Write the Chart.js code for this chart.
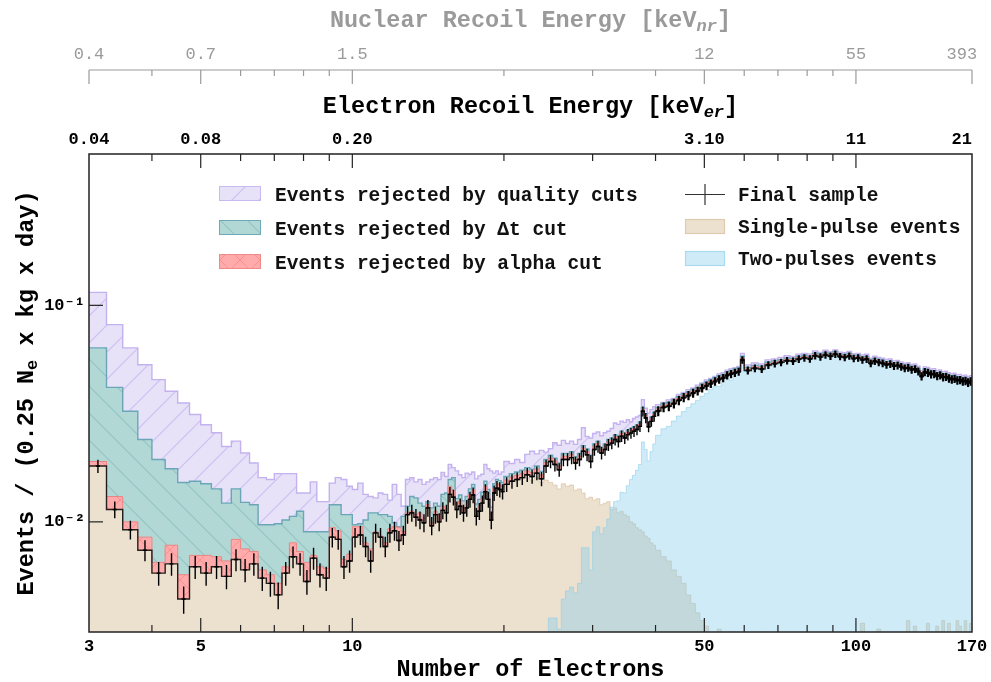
<!DOCTYPE html>
<html><head><meta charset="utf-8">
<script src="https://cdn.jsdelivr.net/npm/chart.js@4.4.1/dist/chart.umd.min.js"></script>
<style>html,body{margin:0;padding:0;background:#fff;}canvas{display:block;}</style>
</head><body>
<canvas id="c" width="991" height="682"></canvas>
<script>
// ---------------- binning of the x axis (Number of Electrons) ----------------
const binGroups = [
  {from: 3,  to: 20,  width: 0.25},
  {from: 20, to: 40,  width: 0.5},
  {from: 40, to: 60,  width: 1},
  {from: 60, to: 170, width: 2}
];
// ---------------- axis ticks ----------------
const axisTicks = [3, 5, 10, 50, 100, 170];
const electronTickLabels = ['3', '5', '10', '50', '100', '170'];
const erTickLabels = ['0.04', '0.08', '0.20', '3.10', '11', '21'];
const nrTickLabels = ['0.4', '0.7', '1.5', '12', '55', '393'];
const minorTicks = [4, 6, 7, 8, 9, 20, 30, 40, 60, 70, 80, 90];
const yTicks = [0.01, 0.1];
const yTickLabels = ['10\u207B\u00B2', '10\u207B\u00B9'];
const legendLeft = ['Events rejected by quality cuts', 'Events rejected by \u0394t cut', 'Events rejected by alpha cut'];
const legendRight = ['Final sample', 'Single-pulse events', 'Two-pulses events'];

// ---------------- series: Events / (0.25 Ne x kg x day), one value per bin ----------------
const finalSample = [
  0.0181,0.0114,0.0092,0.0074,0.0058,0.0064,0.0044,0.0062,0.0058,0.0062,
  0.0056,0.0067,0.0060,0.0064,0.0055,0.0052,0.0046,0.0058,0.0069,0.0064,
  0.0053,0.0068,0.0057,0.0055,0.0085,0.0083,0.0062,0.0066,0.0085,0.0087,
  0.0077,0.0066,0.0089,0.0085,0.0077,0.0089,0.0091,0.0082,0.0087,0.0108,
  0.0110,0.0105,0.0102,0.0099,0.0116,0.0096,0.0108,0.0100,0.0113,0.0110,
  0.0134,0.0130,0.0114,0.0118,0.0110,0.0116,0.0127,0.0133,0.0106,0.0112,
  0.0122,0.0138,0.0127,0.0102,0.0136,0.0143,0.0141,0.0138,
  0.0149,0.0154,0.0157,0.0160,0.0165,0.0162,0.0168,0.0158,0.0181,0.0190,
  0.0184,0.0174,0.0194,0.0194,0.0198,0.0187,0.0194,0.0212,0.0204,0.0190,
  0.0216,0.0223,0.0208,0.0216,0.0227,0.0231,0.0240,0.0235,0.0249,0.0244,
  0.0253,0.0257,0.0262,0.0267,0.0276,0.0324,0.0302,0.0275,0.0291,0.0307,
  0.0325,0.0338,0.0342,0.0352,0.0364,0.0375,0.0383,0.0393,0.0402,0.0415,
  0.0425,0.0435,0.0445,0.0455,0.0462,0.0475,0.0482,0.0488,0.0494,0.0560,
  0.0500,0.0512,0.0508,0.0530,0.0538,0.0545,0.0555,0.0552,0.0565,0.0572,
  0.0566,0.0585,0.0578,0.0590,0.0582,0.0595,0.0580,0.0575,0.0583,0.0568,
  0.0572,0.0560,0.0565,0.0540,0.0552,0.0545,0.0540,0.0532,0.0536,0.0525,
  0.0528,0.0520,0.0512,0.0515,0.0505,0.0508,0.0495,0.0470,0.0492,0.0488,
  0.0480,0.0482,0.0472,0.0475,0.0466,0.0468,0.0460,0.0455,0.0458,0.0450,
  0.0452,0.0445,0.0448,0.0440,0.0445
];
const alphaCut = [
  0.0190,0.0131,0.0100,0.0085,0.0065,0.0078,0.0057,0.0070,0.0070,0.0069,
  0.0066,0.0083,0.0075,0.0073,0.0060,0.0057,0.0052,0.0062,0.0080,0.0073,
  0.0065,0.0070,0.0062,0.0061,0.0094,0.0091,0.0067,0.0071,0.0095,0.0095,
  0.0080,0.0075,0.0090,0.0086,0.0080,0.0093,0.0095,0.0094,0.0090,0.0110,
  0.0112,0.0108,0.0110,0.0104,0.0120,0.0099,0.0112,0.0108,0.0118,0.0115,
  0.0146,0.0140,0.0121,0.0125,0.0117,0.0123,0.0134,0.0141,0.0113,0.0119,
  0.0129,0.0146,0.0134,0.0109,0.0143,0.0150,0.0148,0.0145,
  0.0156,0.0161,0.0164,0.0167,0.0172,0.0169,0.0175,0.0165,0.0188,0.0197,
  0.0191,0.0181,0.0201,0.0201,0.0205,0.0194,0.0201,0.0219,0.0211,0.0197,
  0.0223,0.0230,0.0215,0.0223,0.0234,0.0238,0.0247,0.0242,0.0256,0.0251,
  0.0260,0.0264,0.0269,0.0274,0.0283,0.0332,0.0310,0.0283,0.0299,0.0315,
  0.0332,0.0345,0.0349,0.0359,0.0371,0.0383,0.0391,0.0401,0.0410,0.0423,
  0.0434,0.0444,0.0454,0.0464,0.0471,0.0485,0.0492,0.0498,0.0504,0.0571,
  0.0508,0.0520,0.0516,0.0538,0.0546,0.0553,0.0563,0.0560,0.0573,0.0580,
  0.0574,0.0593,0.0586,0.0598,0.0590,0.0603,0.0588,0.0583,0.0591,0.0576,
  0.0580,0.0568,0.0573,0.0548,0.0560,0.0553,0.0548,0.0540,0.0544,0.0533,
  0.0536,0.0528,0.0520,0.0523,0.0513,0.0516,0.0503,0.0478,0.0500,0.0496,
  0.0488,0.0490,0.0480,0.0483,0.0474,0.0476,0.0468,0.0463,0.0466,0.0458,
  0.0460,0.0453,0.0456,0.0448,0.0453
];
const dtCut = [
  0.0636,0.0418,0.0324,0.0240,0.0194,0.0176,0.0152,0.0154,0.0150,0.0142,
  0.0122,0.0142,0.0123,0.0120,0.0097,0.0097,0.0098,0.0102,0.0106,0.0112,
  0.0090,0.0090,0.0090,0.0090,0.0120,0.0120,0.0108,0.0108,0.0097,0.0098,
  0.0102,0.0110,0.0110,0.0108,0.0108,0.0106,0.0099,0.0095,0.0106,0.0118,
  0.0131,0.0129,0.0122,0.0118,0.0124,0.0116,0.0122,0.0118,0.0134,0.0136,
  0.0157,0.0160,0.0128,0.0133,0.0125,0.0131,0.0142,0.0149,0.0121,0.0127,
  0.0137,0.0154,0.0141,0.0117,0.0150,0.0157,0.0155,0.0152,
  0.0162,0.0167,0.0170,0.0173,0.0178,0.0175,0.0181,0.0171,0.0194,0.0203,
  0.0197,0.0187,0.0207,0.0207,0.0211,0.0200,0.0207,0.0225,0.0217,0.0203,
  0.0229,0.0236,0.0221,0.0229,0.0240,0.0244,0.0253,0.0248,0.0262,0.0257,
  0.0266,0.0270,0.0275,0.0280,0.0289,0.0338,0.0316,0.0289,0.0305,0.0321,
  0.0338,0.0352,0.0356,0.0366,0.0379,0.0390,0.0398,0.0409,0.0418,0.0432,
  0.0442,0.0452,0.0463,0.0473,0.0480,0.0494,0.0501,0.0508,0.0514,0.0582,
  0.0516,0.0528,0.0524,0.0546,0.0554,0.0561,0.0571,0.0568,0.0581,0.0588,
  0.0582,0.0601,0.0594,0.0606,0.0598,0.0611,0.0596,0.0591,0.0599,0.0584,
  0.0588,0.0576,0.0581,0.0556,0.0568,0.0561,0.0556,0.0548,0.0552,0.0541,
  0.0544,0.0536,0.0528,0.0531,0.0521,0.0524,0.0511,0.0486,0.0508,0.0504,
  0.0496,0.0498,0.0488,0.0491,0.0482,0.0484,0.0476,0.0471,0.0474,0.0466,
  0.0468,0.0461,0.0464,0.0456,0.0461
];
const qualityCut = [
  0.1148,0.0815,0.0636,0.0532,0.0454,0.0401,0.0354,0.0313,0.0281,0.0258,
  0.0223,0.0236,0.0208,0.0187,0.0160,0.0157,0.0167,0.0167,0.0167,0.0136,
  0.0136,0.0153,0.0124,0.0124,0.0151,0.0160,0.0157,0.0146,0.0141,0.0151,
  0.0134,0.0131,0.0129,0.0136,0.0134,0.0126,0.0149,0.0134,0.0118,0.0157,
  0.0160,0.0153,0.0157,0.0149,0.0153,0.0157,0.0160,0.0157,0.0169,0.0162,
  0.0184,0.0178,0.0172,0.0165,0.0160,0.0168,0.0166,0.0170,0.0158,0.0163,
  0.0166,0.0184,0.0176,0.0172,0.0168,0.0172,0.0166,0.0170,
  0.0190,0.0186,0.0194,0.0188,0.0205,0.0212,0.0206,0.0214,0.0210,0.0218,
  0.0232,0.0226,0.0238,0.0230,0.0236,0.0228,0.0240,0.0272,0.0248,0.0244,
  0.0256,0.0260,0.0250,0.0258,0.0262,0.0270,0.0286,0.0282,0.0292,0.0288,
  0.0296,0.0290,0.0300,0.0305,0.0310,0.0367,0.0335,0.0318,0.0330,0.0340,
  0.0348,0.0356,0.0366,0.0372,0.0388,0.0396,0.0408,0.0415,0.0428,0.0438,
  0.0452,0.0460,0.0470,0.0482,0.0488,0.0502,0.0510,0.0515,0.0522,0.0600,
  0.0530,0.0542,0.0536,0.0560,0.0566,0.0575,0.0585,0.0580,0.0595,0.0600,
  0.0596,0.0615,0.0606,0.0620,0.0610,0.0622,0.0608,0.0605,0.0612,0.0598,
  0.0600,0.0590,0.0594,0.0570,0.0582,0.0574,0.0570,0.0562,0.0565,0.0554,
  0.0557,0.0548,0.0540,0.0544,0.0533,0.0536,0.0523,0.0500,0.0520,0.0516,
  0.0508,0.0510,0.0500,0.0503,0.0494,0.0496,0.0488,0.0483,0.0486,0.0478,
  0.0480,0.0473,0.0476,0.0468,0.0473
];
const singlePulse = [
  0.0181,0.0114,0.0092,0.0074,0.0058,0.0064,0.0044,0.0062,0.0058,0.0062,
  0.0056,0.0067,0.0060,0.0064,0.0055,0.0052,0.0046,0.0058,0.0069,0.0064,
  0.0053,0.0068,0.0057,0.0055,0.0085,0.0083,0.0062,0.0066,0.0085,0.0087,
  0.0077,0.0066,0.0089,0.0085,0.0077,0.0089,0.0091,0.0082,0.0087,0.0108,
  0.0110,0.0105,0.0102,0.0099,0.0116,0.0096,0.0108,0.0100,0.0113,0.0110,
  0.0134,0.0130,0.0114,0.0118,0.0110,0.0116,0.0127,0.0133,0.0106,0.0112,
  0.0122,0.0138,0.0127,0.0102,0.0136,0.0143,0.0141,0.0138,
  0.0149,0.0154,0.0157,0.0158,0.0160,0.0156,0.0160,0.0152,0.0156,0.0152,
  0.0148,0.0142,0.0150,0.0146,0.0148,0.0140,0.0142,0.0136,0.0128,0.0130,
  0.0126,0.0128,0.0120,0.0122,0.0124,0.0114,0.0116,0.0110,0.0112,0.0108,
  0.0106,0.0100,0.0098,0.0094,0.0092,0.0090,0.0086,0.0084,0.0080,0.0078,
  0.0074,0.0069,0.0066,0.0060,0.0056,0.0052,0.0046,0.0042,0.0038,0.0035,
  0.0033,0.0026,0.0022,0.0032,0.0020,0.0020,0.0031,0.0020,0.0020,0.0020,
  0.0020,0.0020,0.0031,0.0020,0.0020,0.0020,0.0020,0.0020,0.0020,0.0020,
  0.0020,0.0020,0.0020,0.0020,0.0020,0.0020,0.0020,0.0020,0.0020,0.0020,
  0.0020,0.0034,0.0020,0.0020,0.0020,0.0032,0.0020,0.0020,0.0020,0.0020,
  0.0020,0.0020,0.0020,0.0035,0.0020,0.0033,0.0020,0.0020,0.0020,0.0034,
  0.0020,0.0020,0.0033,0.0020,0.0035,0.0020,0.0034,0.0020,0.0020,0.0035,
  0.0033,0.0020,0.0035,0.0020,0.0034
];
const twoPulses = [
  0.001,0.001,0.001,0.001,0.001,0.001,0.001,0.001,0.001,0.001,
  0.001,0.001,0.001,0.001,0.001,0.001,0.001,0.001,0.001,0.001,
  0.001,0.001,0.001,0.001,0.001,0.001,0.001,0.001,0.001,0.001,
  0.001,0.001,0.001,0.001,0.001,0.001,0.001,0.001,0.001,0.001,
  0.001,0.001,0.001,0.001,0.001,0.001,0.001,0.001,0.001,0.001,
  0.001,0.001,0.001,0.001,0.001,0.001,0.001,0.001,0.001,0.001,
  0.001,0.001,0.001,0.001,0.001,0.001,0.001,0.001,
  0.001,0.001,0.001,0.001,0.001,0.001,0.001,0.001,0.0028,0.0036,
  0.0036,0.0032,0.0044,0.0048,0.0050,0.0047,0.0052,0.0076,0.0076,0.0060,
  0.0090,0.0095,0.0088,0.0094,0.0103,0.0117,0.0124,0.0125,0.0137,0.0136,
  0.0147,0.0157,0.0164,0.0173,0.0184,0.0234,0.0216,0.0191,0.0211,0.0229,
  0.0251,0.0269,0.0276,0.0292,0.0308,0.0323,0.0337,0.0351,0.0364,0.0380,
  0.0392,0.0409,0.0423,0.0423,0.0458,0.0470,0.0451,0.0484,0.0490,0.0555,
  0.0496,0.0508,0.0504,0.0526,0.0534,0.0541,0.0551,0.0548,0.0561,0.0568,
  0.0562,0.0581,0.0574,0.0586,0.0578,0.0591,0.0576,0.0571,0.0579,0.0564,
  0.0568,0.0556,0.0561,0.0536,0.0548,0.0541,0.0536,0.0528,0.0532,0.0521,
  0.0524,0.0516,0.0508,0.0511,0.0501,0.0504,0.0491,0.0466,0.0488,0.0484,
  0.0476,0.0478,0.0468,0.0471,0.0462,0.0464,0.0456,0.0451,0.0454,0.0446,
  0.0448,0.0441,0.0444,0.0436,0.0441
];
// exposure per 0.25 Ne bin, used for the Poisson error bars of the final sample
const exposurePerBin = 11000;

// ---------------- build bin edges ----------------
const edges = [];
binGroups.forEach(g => {
  for (let i = 0; ; i++) {
    const e = g.from + i * g.width;
    if (e >= g.to - 1e-9) break;
    edges.push(+e.toFixed(4));
  }
});
edges.push(binGroups[binGroups.length - 1].to);
function steps(vals) {
  const pts = vals.map((v, i) => ({x: edges[i], y: v}));
  pts.push({x: edges[vals.length], y: vals[vals.length - 1]});
  return pts;
}

// ---------------- patterns ----------------
function makePattern(bg, lineColor, size, kinds, lw) {
  const c = document.createElement('canvas');
  c.width = size; c.height = size;
  const g = c.getContext('2d');
  g.fillStyle = bg; g.fillRect(0, 0, size, size);
  g.strokeStyle = lineColor; g.lineWidth = lw;
  g.beginPath();
  if (kinds.includes('/')) {
    g.moveTo(-2, size + 2); g.lineTo(size + 2, -2);
    g.moveTo(-2, 2); g.lineTo(2, -2);
    g.moveTo(size - 2, size + 2); g.lineTo(size + 2, size - 2);
  }
  if (kinds.includes('\\')) {
    g.moveTo(-2, -2); g.lineTo(size + 2, size + 2);
    g.moveTo(size - 2, -2); g.lineTo(size + 2, 2);
    g.moveTo(-2, size - 2); g.lineTo(2, size + 2);
  }
  g.stroke();
  return g.createPattern(c, 'repeat');
}
const lavPat = makePattern('#e8e2f8', '#cdbff2', 27, ['/'], 1.2);
const tealPat = makePattern('#b2d8d5', '#94c4c3', 27, ['\\'], 1.2);
const redPat = makePattern('#ffabab', '#ff8e8e', 20, ['/', '\\'], 1);

const FONT = '"Liberation Mono", "DejaVu Sans Mono", monospace';
Chart.defaults.font.family = FONT;

const common = {stepped: 'before', pointRadius: 0, pointHoverRadius: 0, tension: 0};

// ---------------- error bars for the final sample ----------------
const errorBars = {
  id: 'errorBars',
  afterDatasetsDraw(chart) {
    const {ctx, chartArea: a, scales: {x, y}} = chart;
    ctx.save();
    ctx.beginPath(); ctx.rect(a.left, a.top, a.right - a.left, a.bottom - a.top); ctx.clip();
    ctx.strokeStyle = '#000';
    finalSample.forEach((v, i) => {
      const c = (edges[i] + edges[i + 1]) / 2;
      const err = Math.sqrt(v / exposurePerBin);
      const px = x.getPixelForValue(c);
      ctx.lineWidth = (edges[i + 1] - edges[i]) >= 1 ? 2.2 : 1.4;
      ctx.beginPath();
      ctx.moveTo(px, y.getPixelForValue(v + err));
      ctx.lineTo(px, y.getPixelForValue(Math.max(v - err, 1e-5)));
      ctx.moveTo(px - 2, y.getPixelForValue(v));
      ctx.lineTo(px + 2, y.getPixelForValue(v));
      ctx.stroke();
    });
    ctx.restore();
  }
};

function drawParts(ctx, parts, x, y, align) {
  let total = 0;
  parts.forEach(p => { ctx.font = p.font; p.w = ctx.measureText(p.text).width; total += p.w; });
  let cx = align === 'center' ? x - total / 2 : x;
  ctx.textAlign = 'left'; ctx.textBaseline = 'alphabetic';
  parts.forEach(p => {
    ctx.font = p.font; ctx.fillStyle = p.color;
    ctx.fillText(p.text, cx, y + (p.dy || 0));
    cx += p.w;
  });
}

// ---------------- frame, ticks, extra axis, titles, legend ----------------
const decorations = {
  id: 'decorations',
  afterDraw(chart) {
    const {ctx, chartArea: a, scales: {x, y, xnr}} = chart;
    ctx.save();
    const line = (x1, y1, x2, y2) => { ctx.beginPath(); ctx.moveTo(x1, y1); ctx.lineTo(x2, y2); ctx.stroke(); };
    // frame
    ctx.strokeStyle = '#222'; ctx.lineWidth = 1.5;
    ctx.strokeRect(a.left, a.top, a.right - a.left, a.bottom - a.top);
    // x ticks on bottom and top of the frame (inward)
    ctx.lineWidth = 1.2;
    const xt = (v, len) => { const px = x.getPixelForValue(v); line(px, a.bottom, px, a.bottom - len); line(px, a.top, px, a.top + len); };
    axisTicks.slice(1, -1).forEach(v => xt(v, 14));
    minorTicks.forEach(v => xt(v, 7));
    // y ticks
    yTicks.forEach(v => { const py = y.getPixelForValue(v); line(a.left, py, a.left + 14, py); });
    // nuclear recoil axis line
    const ny = xnr.bottom - 10;
    ctx.strokeStyle = '#9a9a9a'; ctx.lineWidth = 1.2;
    line(a.left, ny, a.right, ny);
    axisTicks.forEach(v => { const px = x.getPixelForValue(v); line(px, ny, px, ny + 14); });
    minorTicks.forEach(v => { const px = x.getPixelForValue(v); line(px, ny, px, ny + 6); });

    // titles
    const cxm = (a.left + a.right) / 2;
    const big = 'bold 23.5px ' + FONT, sub = 'italic bold 17px ' + FONT;
    drawParts(ctx, [
      {text: 'Nuclear Recoil Energy [keV', font: big, color: '#9a9a9a'},
      {text: 'nr', font: sub, color: '#9a9a9a', dy: 4},
      {text: ']', font: big, color: '#9a9a9a'}], cxm, 27, 'center');
    drawParts(ctx, [
      {text: 'Electron Recoil Energy [keV', font: big, color: '#000'},
      {text: 'er', font: sub, color: '#000', dy: 4},
      {text: ']', font: big, color: '#000'}], cxm, 113, 'center');
    drawParts(ctx, [{text: 'Number of Electrons', font: big, color: '#000'}], cxm, 676, 'center');
    ctx.save();
    ctx.translate(33, (a.top + a.bottom) / 2);
    ctx.rotate(-Math.PI / 2);
    drawParts(ctx, [
      {text: 'Events / (0.25 N', font: big, color: '#000'},
      {text: 'e', font: 'bold 17px ' + FONT, color: '#000', dy: 4},
      {text: ' x kg x day)', font: big, color: '#000'}], 0, 0, 'center');
    ctx.restore();

    // legend
    const lf = 'bold 19.5px ' + FONT;
    const boxes = [
      {fill: lavPat, edge: '#c9b9f1', y: 186},
      {fill: tealPat, edge: '#6fa9b8', y: 220},
      {fill: redPat, edge: '#f08a8a', y: 254}];
    const base = [201, 235, 269];
    boxes.forEach((b, i) => {
      ctx.fillStyle = b.fill; ctx.fillRect(219, b.y, 42, 15);
      ctx.strokeStyle = b.edge; ctx.lineWidth = 1; ctx.strokeRect(219.5, b.y + 0.5, 41, 14);
    });
    legendLeft.forEach((t, i) => drawParts(ctx, [{text: t, font: lf, color: '#111'}], 275, base[i], 'left'));
    // right column
    ctx.strokeStyle = '#333'; ctx.lineWidth = 1.2;
    line(685, 194.5, 725, 194.5); line(705, 184, 705, 205);
    ctx.fillStyle = 'rgba(210,180,140,0.42)'; ctx.fillRect(685, 219, 40, 15);
    ctx.strokeStyle = 'rgba(210,180,140,0.5)'; ctx.strokeRect(685.5, 219.5, 39, 14);
    ctx.fillStyle = 'rgba(135,206,235,0.4)'; ctx.fillRect(685, 251, 40, 15);
    ctx.strokeStyle = 'rgba(135,206,235,0.55)'; ctx.strokeRect(685.5, 251.5, 39, 14);
    const rb = [201, 232.5, 264.5];
    legendRight.forEach((t, i) => drawParts(ctx, [{text: t, font: lf, color: '#111'}], 738, rb[i], 'left'));
    ctx.restore();
  }
};

function noSidePadding(s) { s.paddingLeft = 0; s.paddingRight = 0; }

function topAxis(labels, height, pad, color, weight, w) {
  return {
    type: 'logarithmic', position: 'top', weight: w, min: 3, max: 170,
    grid: {display: false, drawTicks: false}, border: {display: false},
    afterBuildTicks: s => { s.ticks = axisTicks.map(v => ({value: v})); },
    afterFit: s => { s.height = height; noSidePadding(s); },
    ticks: {autoSkip: false, maxRotation: 0, minRotation: 0, padding: pad, color: color,
            font: {size: 17, weight: weight},
            // the last label sits slightly inside the right end, as in the original figure
            callback: (v, i) => i === labels.length - 1 ? labels[i] + '  ' : labels[i]}
  };
}

new Chart(document.getElementById('c'), {
  type: 'line',
  data: {
    datasets: [
      Object.assign({label: 'Final sample', data: steps(finalSample), borderColor: 'rgba(15,15,15,0.9)', borderWidth: 1.4, fill: false}, common),
      Object.assign({label: 'Events rejected by alpha cut', data: steps(alphaCut), borderColor: '#e98383', borderWidth: 1, backgroundColor: redPat, fill: '-1'}, common),
      Object.assign({label: 'Events rejected by \u0394t cut', data: steps(dtCut), borderColor: '#6aa6b8', borderWidth: 1.4, backgroundColor: tealPat, fill: '-1'}, common),
      Object.assign({label: 'Events rejected by quality cuts', data: steps(qualityCut), borderColor: '#c4b2f0', borderWidth: 1.4, backgroundColor: lavPat, fill: '-1'}, common),
      Object.assign({label: 'Two-pulses events', data: steps(twoPulses), borderColor: 'rgba(135,206,235,0.55)', borderWidth: 1, backgroundColor: 'rgba(135,206,235,0.4)', fill: 'start'}, common),
      Object.assign({label: 'Single-pulse events', data: steps(singlePulse), borderColor: 'rgba(210,180,140,0.5)', borderWidth: 1, backgroundColor: 'rgba(210,180,140,0.42)', fill: 'start'}, common)
    ]
  },
  options: {
    responsive: false, animation: false, events: [],
    layout: {padding: {left: 0, right: 19, top: 0, bottom: 0}},
    plugins: {legend: {display: false}, tooltip: {enabled: false}, filler: {propagate: false}},
    scales: {
      x: {
        type: 'logarithmic', position: 'bottom', min: 3, max: 170,
        grid: {display: false, drawTicks: false}, border: {display: false},
        afterBuildTicks: s => { s.ticks = axisTicks.map(v => ({value: v})); },
        afterFit: s => { s.height = 50; noSidePadding(s); },
        ticks: {autoSkip: false, maxRotation: 0, minRotation: 0, padding: 4.5, color: '#000',
                font: {size: 17, weight: 'bold'}, callback: (v, i) => electronTickLabels[i]}
      },
      xer: topAxis(erTickLabels, 74, 3.8, '#000', 'bold', 0),
      xnr: topAxis(nrTickLabels, 80, 14.8, '#9a9a9a', 'normal', 1),
      y: {
        type: 'logarithmic', min: 0.0031, max: 0.5,
        grid: {display: false, drawTicks: false}, border: {display: false},
        afterBuildTicks: s => { s.ticks = yTicks.map(v => ({value: v})); },
        afterFit: s => { s.width = 89; s.paddingTop = 0; s.paddingBottom = 0; },
        ticks: {autoSkip: false, padding: 4, color: '#000', font: {size: 17, weight: 'bold'},
                callback: (v, i) => yTickLabels[i]}
      }
    }
  },
  plugins: [errorBars, decorations]
});
</script>
</body></html>
